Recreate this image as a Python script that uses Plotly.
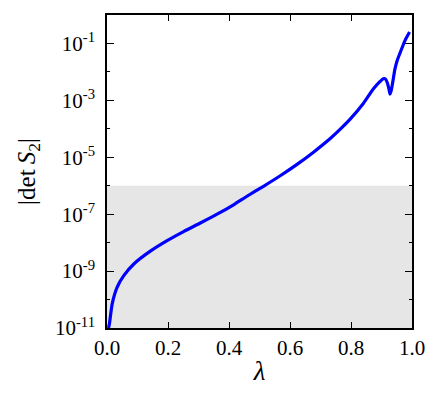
import plotly.graph_objects as go

# Data
lam = [0.005, 0.008, 0.017, 0.033, 0.055, 0.088, 0.142, 0.197, 0.251, 0.306,
       0.361, 0.415, 0.459, 0.513, 0.568, 0.623, 0.677, 0.732, 0.764, 0.798,
       0.841, 0.873, 0.893, 0.906, 0.913, 0.919, 0.924, 0.928, 0.932, 0.937,
       0.944, 0.952, 0.961, 0.977, 0.992]
log_det = [-11.0, -10.85, -10.15, -9.57, -9.16, -8.75, -8.30, -7.93, -7.61, -7.31,
           -7.00, -6.67, -6.37, -6.02, -5.65, -5.25, -4.82, -4.34, -4.02, -3.65,
           -3.10, -2.60, -2.36, -2.24, -2.25, -2.38, -2.58, -2.78, -2.65, -2.35,
           -1.90, -1.58, -1.33, -0.90, -0.60]
det_vals = [10 ** v for v in log_det]

threshold = 1e-6
y_floor = 1e-11
x_span = [0.0, 1.0]

major_exp = [-11, -9, -7, -5, -3, -1]
minor_exp = [-10, -8, -6, -4, -2]
x_ticks = [0.0, 0.2, 0.4, 0.6, 0.8, 1.0]

serif = "Liberation Serif"

fig = go.Figure()
fig.add_trace(go.Scatter(
    x=[x_span[0], x_span[1], x_span[1], x_span[0], x_span[0]],
    y=[y_floor, y_floor, threshold, threshold, y_floor],
    fill="toself", fillcolor="#e6e6e6", mode="lines",
    line=dict(width=0, color="#e6e6e6"), hoverinfo="skip", showlegend=False))
fig.add_trace(go.Scatter(
    x=lam, y=det_vals, mode="lines",
    line=dict(color="#0000ff", width=3.2, shape="spline", smoothing=0.6),
    showlegend=False))

# page body adds an 8px offset; compensate in size and margins
fig.update_layout(
    width=429, height=395,
    margin=dict(l=99, r=25, t=5, b=75),
    paper_bgcolor="white", plot_bgcolor="white",
    font=dict(family=serif, size=20, color="black"),
)
fig.update_xaxes(
    range=[0, 1.0], tickvals=x_ticks, ticktext=[f"{v:.1f}" for v in x_ticks],
    ticks="inside", ticklen=6, tickwidth=1.2, tickcolor="black",
    showline=True, linecolor="black", linewidth=1.6, mirror="ticks",
    showgrid=False, zeroline=False,
    tickfont=dict(family=serif, size=21),
    title=dict(text="<i>λ</i>", font=dict(family=serif, size=27), standoff=2),
)
fig.update_yaxes(
    type="log", range=[-11, 0],
    tickvals=[10 ** e for e in major_exp],
    ticktext=[f"10<sup>{e}</sup>" for e in major_exp],
    ticks="inside", ticklen=7, tickwidth=1.2, tickcolor="black",
    minor=dict(tickvals=[10 ** e for e in minor_exp], ticks="inside", ticklen=3.5,
               tickwidth=1.2, tickcolor="black", showgrid=False),
    showline=True, linecolor="black", linewidth=1.6, mirror="ticks",
    showgrid=False, zeroline=False,
    tickfont=dict(family=serif, size=21),
    ticklabelstandoff=6,
    title=dict(text="|det\u2009<i>S</i><sub>2</sub>|", font=dict(family=serif, size=25), standoff=12),
)

fig.write_html("out.html")
